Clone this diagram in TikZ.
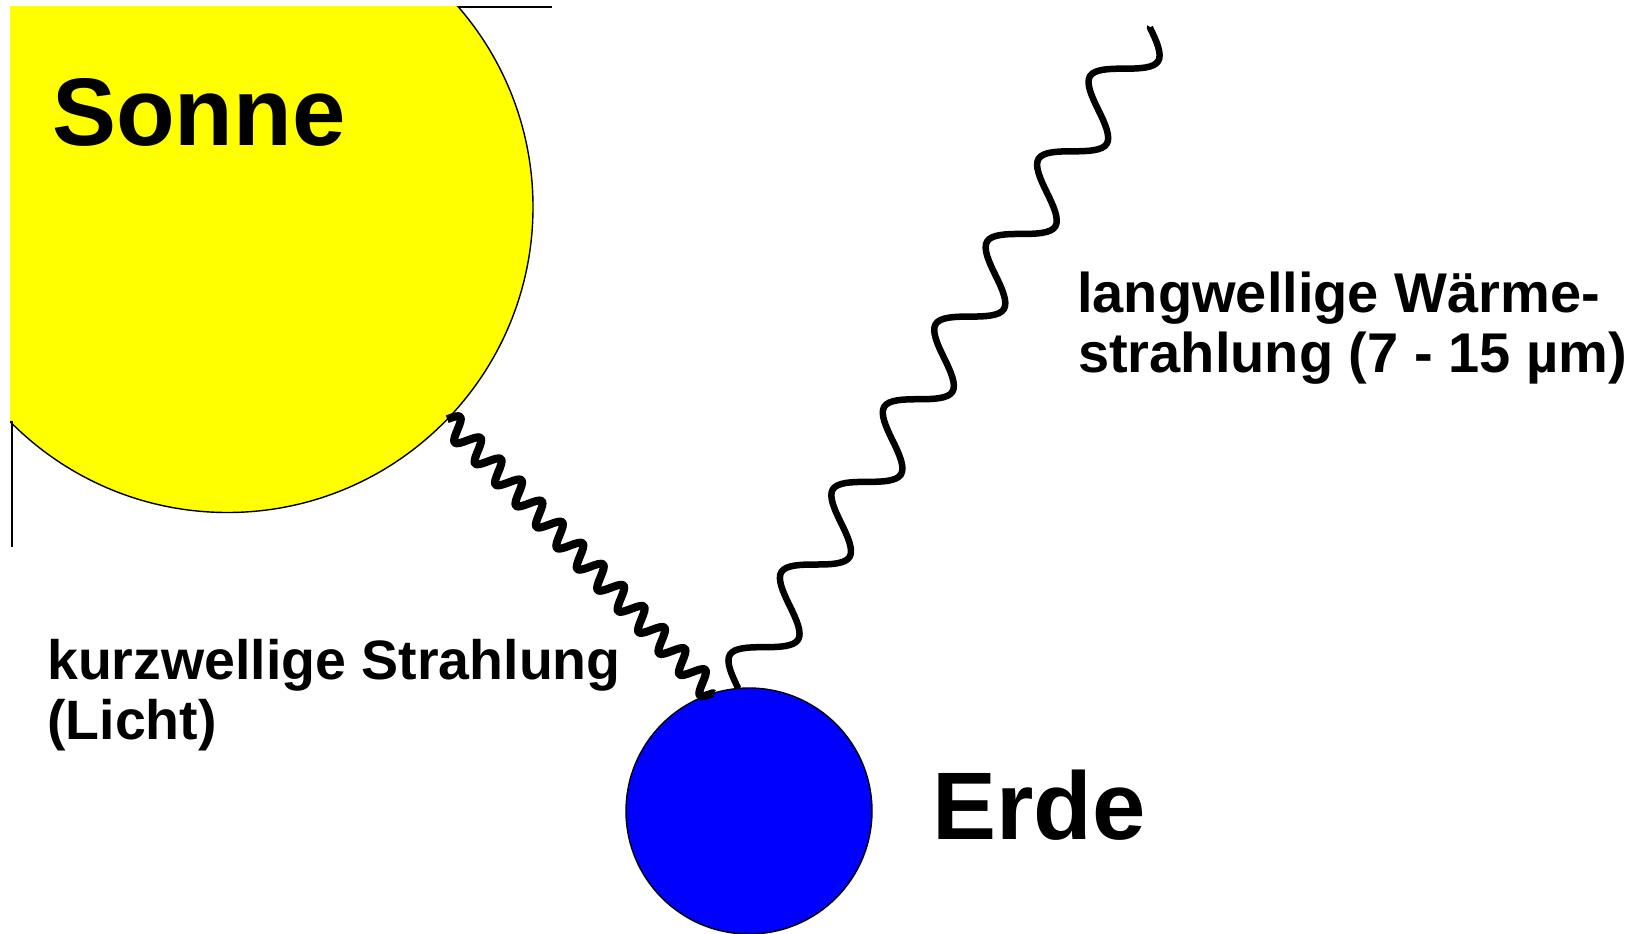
\documentclass[tikz,border=0pt]{standalone}
\usepackage{fontspec}
\setmainfont{Liberation Sans}
\usetikzlibrary{calc,decorations}
\pgfdeclaredecoration{sinewave}{up}{
  \state{up}[switch if less than=+0.5\pgfdecorationsegmentlength to final,
             width=+0.5\pgfdecorationsegmentlength, next state=down]{
    \pgfpathcurveto{\pgfqpoint{0.08333\pgfdecorationsegmentlength}{0.5236\pgfdecorationsegmentamplitude}}
                   {\pgfqpoint{0.16667\pgfdecorationsegmentlength}{\pgfdecorationsegmentamplitude}}
                   {\pgfqpoint{0.25\pgfdecorationsegmentlength}{\pgfdecorationsegmentamplitude}}
    \pgfpathcurveto{\pgfqpoint{0.33333\pgfdecorationsegmentlength}{\pgfdecorationsegmentamplitude}}
                   {\pgfqpoint{0.41667\pgfdecorationsegmentlength}{0.5236\pgfdecorationsegmentamplitude}}
                   {\pgfqpoint{0.5\pgfdecorationsegmentlength}{0pt}}
  }
  \state{down}[switch if less than=+0.5\pgfdecorationsegmentlength to final,
               width=+0.5\pgfdecorationsegmentlength, next state=up]{
    \pgfpathcurveto{\pgfqpoint{0.08333\pgfdecorationsegmentlength}{-0.5236\pgfdecorationsegmentamplitude}}
                   {\pgfqpoint{0.16667\pgfdecorationsegmentlength}{-\pgfdecorationsegmentamplitude}}
                   {\pgfqpoint{0.25\pgfdecorationsegmentlength}{-\pgfdecorationsegmentamplitude}}
    \pgfpathcurveto{\pgfqpoint{0.33333\pgfdecorationsegmentlength}{-\pgfdecorationsegmentamplitude}}
                   {\pgfqpoint{0.41667\pgfdecorationsegmentlength}{-0.5236\pgfdecorationsegmentamplitude}}
                   {\pgfqpoint{0.5\pgfdecorationsegmentlength}{0pt}}
  }
  \state{final}{\pgfpathlineto{\pgfpointdecoratedpathlast}}
}
\definecolor{sunyellow}{RGB}{255,255,0}
\definecolor{earthblue}{RGB}{0,0,255}
\tikzset{
  body/.style={circle, draw=black, line width=1.4pt, inner sep=0pt, outer sep=0pt},
  bigtext/.style={anchor=base west, inner sep=0pt, font=\bfseries\fontsize{96}{100}\selectfont},
  labeltext/.style={anchor=base west, inner sep=0pt, font=\bfseries\fontsize{56}{60}\selectfont},
  frameline/.style={draw=black, line width=1.3pt},
  wavebase/.style={draw=black, line cap=butt, line join=round},
}
\begin{document}
\begin{tikzpicture}[x=1pt, y=-1pt]
\useasboundingbox (0,0) rectangle (1638,934);
\fill[white] (0,0) rectangle (1638,934);
% Sun, clipped
\begin{scope}
  \clip (10,6.5) rectangle (1638,934);
  \node[body, fill=sunyellow, minimum size=611pt] (sun) at (227.5,207) {};
\end{scope}
\draw[frameline] (459,7) -- (552,7);
\draw[frameline] (12,421) -- (12,547);
\node[bigtext] (sonne) at (52,145) {Sonne};
% Earth
\node[body, fill=earthblue, minimum size=246pt] (earth) at (749,811) {};
\node[bigtext] (erde) at (932,839) {Erde};
% waves
\coordinate (sunpt) at (sun.-44);
\coordinate (earthin) at (earth.107);
\coordinate (earthout) at (earth.95);
\coordinate (topend) at (1150,27);
\draw[wavebase, line width=8pt]
  let \p1=($(earthin)-(sunpt)$), \n1={veclen(\x1,\y1)/13-0.02pt} in
  decorate[decoration={sinewave, segment length=\n1, amplitude=11pt}] {(sunpt) -- (earthin)};
\draw[wavebase, line width=6.5pt]
  let \p1=($(topend)-(earthout)$), \n1={veclen(\x1,\y1)/8-0.02pt} in
  decorate[decoration={sinewave, segment length=\n1, amplitude=25pt}] {(earthout) -- (topend)};
% labels
\node[labeltext, font=\bfseries\fontsize{55.5}{60}\selectfont] (kurz1) at (47,679) {kurzwellige Strahlung};
\node[labeltext, font=\bfseries\fontsize{55.5}{60}\selectfont] (kurz2) at (47,739) {(Licht)};
\node[labeltext] (lang1) at (1077,312) {langwellige Wärme-};
\node[labeltext] (lang2) at (1078,372) {strahlung (7 - 15 µm)};
\end{tikzpicture}
\end{document}
